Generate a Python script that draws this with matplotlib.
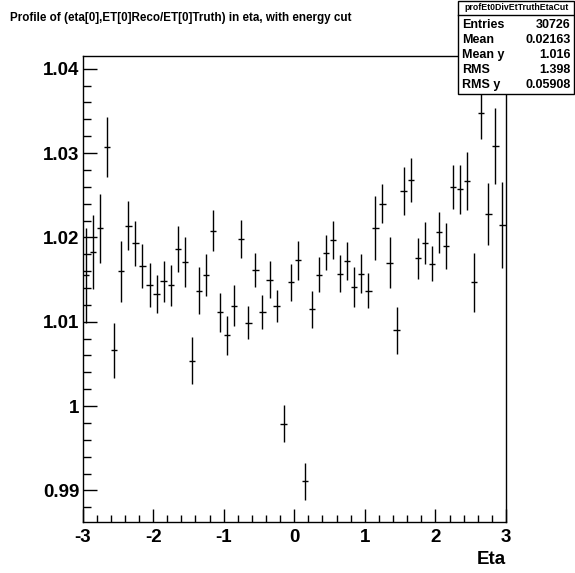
import numpy as np
import matplotlib
matplotlib.use("Agg")
import matplotlib.pyplot as plt
from matplotlib.patches import Rectangle
from matplotlib.ticker import MultipleLocator, FuncFormatter

plt.rcParams["font.family"] = ["Liberation Sans", "DejaVu Sans"]
plt.rcParams["font.weight"] = "bold"

# ----------------------------
# profile data: 60 bins in eta, -3..3
# ----------------------------
bin_lo, bin_hi, n_bins = -3.0, 3.0, 60

ratio_mean = [
    1.0155, 1.0183, 1.0211, 1.0307, 1.0066, 1.0160, 1.0214, 1.0193, 1.0166, 1.0144,
    1.0133, 1.0148, 1.0143, 1.0186, 1.0171, 1.0054, 1.0137, 1.0155, 1.0208, 1.0111,
    1.0084, 1.0119, 1.0198, 1.0099, 1.0161, 1.0112, 1.0150, 1.0119, 0.9979, 1.0147,
    1.0173, 0.9911, 1.0115, 1.0156, 1.0182, 1.0197, 1.0157, 1.0172, 1.0141, 1.0157,
    1.0137, 1.0211, 1.0240, 1.0170, 1.0090, 1.0255, 1.0268, 1.0175, 1.0193, 1.0169,
    1.0206, 1.0190, 1.0260, 1.0257, 1.0267, 1.0147, 1.0348, 1.0228, 1.0308, 1.0215,
]
ratio_err = [
    0.0056, 0.0044, 0.0041, 0.0036, 0.0033, 0.0036, 0.0029, 0.0027, 0.0026, 0.0026,
    0.0023, 0.0024, 0.0024, 0.0027, 0.0030, 0.0028, 0.0028, 0.0025, 0.0024, 0.0023,
    0.0023, 0.0024, 0.0023, 0.0020, 0.0020, 0.0020, 0.0022, 0.0019, 0.0022, 0.0022,
    0.0023, 0.0022, 0.0022, 0.0021, 0.0021, 0.0023, 0.0022, 0.0023, 0.0024, 0.0023,
    0.0021, 0.0038, 0.0023, 0.0030, 0.0028, 0.0029, 0.0026, 0.0024, 0.0025, 0.0021,
    0.0024, 0.0027, 0.0026, 0.0029, 0.0034, 0.0035, 0.0031, 0.0037, 0.0045, 0.0051,
]

stats_name = "profEt0DivEtTruthEtaCut"
stats_labels = ["Entries", "Mean", "Mean y", "RMS", "RMS y"]
stats_values = ["30726", "0.02163", "1.016", "1.398", "0.05908"]

title = "Profile of (eta[0],ET[0]Reco/ET[0]Truth) in eta, with energy cut"

edges = np.linspace(bin_lo, bin_hi, n_bins + 1)
centers = 0.5 * (edges[:-1] + edges[1:])
half_w = 0.5 * (edges[1] - edges[0])

# ----------------------------
# figure
# ----------------------------
W, H = 575, 573
fig = plt.figure(figsize=(W / 100, H / 100), dpi=100)
ax = fig.add_axes([82.5 / W, 1 - 521.7 / H, (506 - 82.5) / W, (521.7 - 56) / H])

ax.errorbar(centers, ratio_mean, yerr=ratio_err, xerr=half_w * 0.9,
            fmt="none", ecolor="black", elinewidth=1.0, capsize=0)

ax.set_xlim(bin_lo, bin_hi)
ax.set_ylim(0.9863, 1.0415)

ax.xaxis.set_major_locator(MultipleLocator(1))
ax.xaxis.set_minor_locator(MultipleLocator(0.2))
ax.yaxis.set_major_locator(MultipleLocator(0.01))
ax.yaxis.set_minor_locator(MultipleLocator(0.002))
ax.yaxis.set_major_formatter(FuncFormatter(lambda v, p: "%g" % round(v, 4)))
ax.xaxis.set_major_formatter(FuncFormatter(lambda v, p: "%g" % round(v, 4)))

ax.tick_params(axis="both", which="both", direction="in", width=1.0,
               labelsize=13.5, top=False, right=False)
ax.tick_params(axis="y", which="major", length=10.3, pad=2)
ax.tick_params(axis="y", which="minor", length=5.5)
ax.tick_params(axis="x", which="major", length=9.2, pad=5)
ax.tick_params(axis="x", which="minor", length=4.8)
for s in ax.spines.values():
    s.set_linewidth(1.0)

fig.text(506 / W, 1 - 560 / H, "Eta", ha="right", va="center", fontsize=13.5)

fig.text(10 / W, 1 - 18 / H, title, ha="left", va="center", fontsize=8.4)

# stats box
bx0, by1 = 457.7, 94
fig.patches.append(Rectangle((bx0 / W, 1 - by1 / H), (W - 1 - bx0) / W, (by1 - 1) / H,
                             transform=fig.transFigure, facecolor="white",
                             edgecolor="black", linewidth=1.0, zorder=5))
fig.add_artist(plt.Line2D([bx0 / W, 1], [1 - 15 / H, 1 - 15 / H],
                          transform=fig.transFigure, color="black", linewidth=1.0, zorder=6))
fig.text((bx0 + W) / 2 / W, 1 - 8 / H, stats_name, ha="center", va="center",
         fontsize=6.3, zorder=7)
for i, (lab, val) in enumerate(zip(stats_labels, stats_values)):
    yy = 1 - (25 + 15 * i) / H
    fig.text(462 / W, yy, lab, ha="left", va="center", fontsize=9, zorder=7)
    fig.text(571 / W, yy, val, ha="right", va="center", fontsize=9, zorder=7)

fig.savefig("out.png", dpi=100)
